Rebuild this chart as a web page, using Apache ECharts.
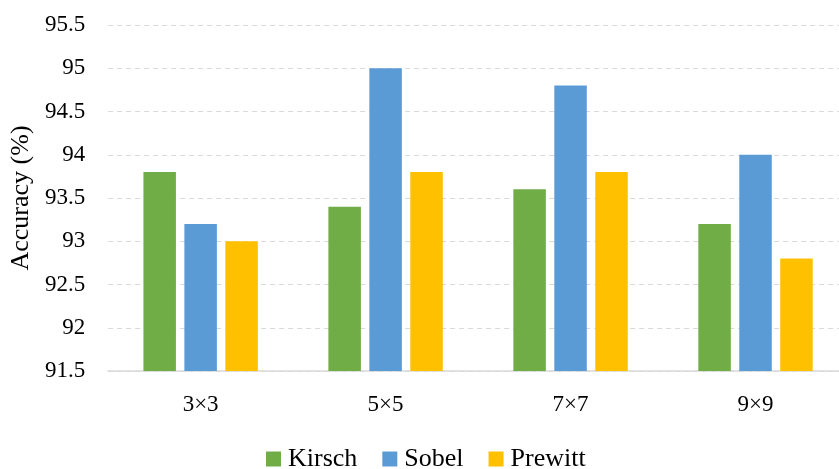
<!DOCTYPE html>
<html>
<head>
<meta charset="utf-8">
<script src="https://cdn.jsdelivr.net/npm/echarts@6/dist/echarts.min.js"></script>
<style>
  html, body { margin: 0; padding: 0; background: #fff; overflow: hidden; }
  /* the plot runs a little past the right edge of the window, so the canvas is wider than the page */
  #chart { width: 848px; height: 469px; }
</style>
</head>
<body>
<div id="chart"></div>
<script>
// Kernel sizes on the x axis
const categories = ['3×3', '5×5', '7×7', '9×9'];
// Accuracy (%) per edge operator
const kirsch  = [93.8, 93.4, 93.6, 93.2];
const sobel   = [93.2, 95.0, 94.8, 94.0];
const prewitt = [93.0, 93.8, 93.8, 92.8];
const seriesNames = ['Kirsch', 'Sobel', 'Prewitt'];
const yMin = 91.5, yMax = 95.5, yStep = 0.5;

const FONT = '"Liberation Serif", "DejaVu Serif", serif';
const colors = ['#70AD47', '#5B9BD5', '#FFC000'];

const chart = echarts.init(document.getElementById('chart'), null, { renderer: 'canvas' });

function bar(name, data, color) {
  return {
    name, type: 'bar', data,
    barWidth: 32.5,
    barGap: '26%',
    itemStyle: { color },
    emphasis: { disabled: true }
  };
}

chart.setOption({
  animation: false,
  color: colors,
  textStyle: { fontFamily: FONT },
  grid: { left: 108, top: 25, width: 740, bottom: 98, containLabel: false },
  legend: {
    data: seriesNames,
    top: 441,
    left: 261,
    itemWidth: 15, itemHeight: 15, itemGap: 25,
    icon: 'rect',
    textStyle: { fontFamily: FONT, fontSize: 26, color: '#000', padding: [0, 0, 0, 2] }
  },
  xAxis: {
    type: 'category',
    data: categories,
    axisLine: { lineStyle: { color: '#d9d9d9', width: 1.5 } },
    axisTick: { show: false },
    axisLabel: { fontFamily: FONT, fontSize: 23, color: '#000', margin: 22 }
  },
  yAxis: {
    type: 'value',
    min: yMin, max: yMax, interval: yStep,
    name: 'Accuracy (%)',
    nameLocation: 'middle',
    nameGap: 71,
    nameTextStyle: { fontFamily: FONT, fontSize: 26, color: '#000' },
    axisLine: { show: false },
    axisTick: { show: false },
    axisLabel: { fontFamily: FONT, fontSize: 23, color: '#000', margin: 23 },
    splitLine: { lineStyle: { color: '#d9d9d9', type: [5, 4], width: 1.2 } }
  },
  series: [
    bar(seriesNames[0], kirsch, colors[0]),
    bar(seriesNames[1], sobel, colors[1]),
    bar(seriesNames[2], prewitt, colors[2])
  ]
});
</script>
</body>
</html>
